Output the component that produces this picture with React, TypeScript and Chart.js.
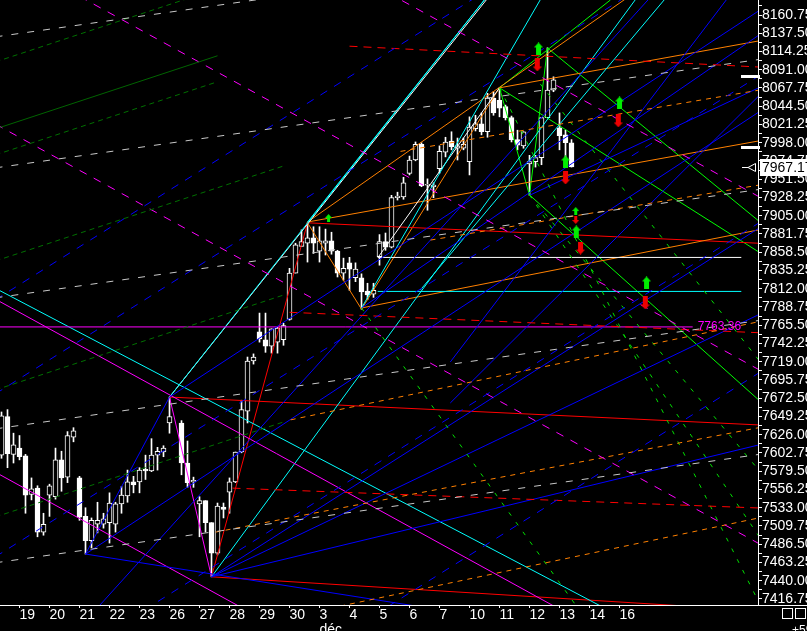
import React, { useEffect, useRef } from 'react';
import { Chart, registerables } from 'chart.js';

Chart.register(...registerables);

// ---- candles (one candle per array slot, ~5 per trading day) ----
const opens = [7600,7649,7601,7609,7599,7550,7558,7502,7549,7547,7594,7572,7623,7571,7522,7491,7512,7512,7514,7512,7538,7548,7566,7566,7582,7580,7600,7604,7641,null,7641,7590,7566,7538,7542,7514,7475,7534,7553,7566,7604,7656,7720,7757,7747,7739,7744,7747,7773,7832,7866,7870,7877,7860,7870,7873,7860,7832,7845,7826,7826,7809,7805,7853,7872,7865,7928,7929,7959,7976,7996,7944,7942,7965,7986,8000,7991,7991,7974,8016,8022,8012,8055,8052,8044,8030,8002,7994,7971,7974,7979,8030,8065,8017,8008,7998];
const highs = [7655,7658,7628,7625,7601,7571,7561,7526,7563,7609,7605,7630,7635,7573,7533,7520,7540,7526,7552,7540,7560,7581,7573,7584,7600,7621,7610,7612,7674,null,7644,7618,7572,7547,7542,7514,7539,7539,7571,7604,7670,7725,7729,7781,7781,7761,7763,7768,7838,7870,7887,7896,7891,7891,7888,7884,7861,7851,7852,7845,7831,7819,7819,7881,7883,7931,7935,7954,7981,7999,7998,7952,7947,7994,8005,8012,8004,8004,8031,8033,8036,8061,8063,8068,8046,8032,8014,8012,7982,7982,8030,8119,8082,8036,8014,8002];
const lows = [7596,7584,7590,7594,7526,7543,7496,7498,7522,7544,7554,7565,7617,7517,7474,7482,7501,7507,7488,7502,7526,7540,7552,7552,7569,7579,7581,7598,7628,null,7575,7559,7559,7496,7502,7445,7473,7520,7526,7565,7603,7641,7716,7744,7731,7730,7730,7740,7772,7832,7866,7846,7857,7846,7855,7856,7827,7823,7810,7821,7786,7798,7801,7842,7861,7864,7925,7926,7957,7975,7942,7912,7928,7959,7980,7989,7976,7989,7957,8013,8008,8005,8033,8031,8027,7999,7989,7991,7931,7967,7970,8030,8063,7989,7976,7967];
const closes = [7650,7602,7613,7598,7549,7557,7502,7512,7561,7594,7571,7625,7631,7521,7491,7517,7517,7519,7539,7538,7549,7566,7562,7581,7580,7600,7605,7609,7649,null,7590,7565,7568,7542,7514,7475,7535,7531,7566,7604,7658,7720,7725,7748,7739,7761,7762,7765,7832,7868,7872,7877,7870,7873,7873,7860,7832,7838,7837,7837,7808,7804,7810,7872,7865,7928,7930,7947,7976,7996,7943,7945,7944,7987,7999,7993,7994,7996,8018,8022,8012,8055,8036,8042,8030,8002,7995,8012,7974,7979,8030,8065,8078,8007,7998,7967.17];

// ---- x axis: first candle of each trading day, and its label ----
const dayTickIndex = [3,8,13,18,23,28,33,38,43,48,53,58,63,68,73,78,83,88,93,98,103];
const dayLabels = ['19','20','21','22','23','26','27','28','29','30','3','4','5','6','7','10','11','12','13','14','16'];
const monthLabel = 'déc';
const monthLabelDay = '3';

// ---- y axis ----
const yTickStart = 7416.75;
const yTickStep = 23.25;
const yMin = 7409.1;
const yMax = 8179.86;

// ---- levels ----
const magentaLevel = 7763.36;
const cyanLevel = 7808.6;
const whiteLevel = 7851.9;
const lastPrice = 7967.17;
const whiteMarks = [8083, 7992.6];

// ---- line segments [x1, price1, x2, price2] in candle-index units ----
type Seg = [number, number, number, number];
const zigBlue: Seg[] = [[14, 7474, 28, 7674]];
const zigMagenta: Seg[] = [[28, 7674, 35, 7445]];
const zigRed: Seg[] = [[35, 7445, 51, 7896]];
const zigOrange: Seg[] = [[51, 7896, 60, 7786], [60, 7786, 83, 8068]];
const zigGreen: Seg[] = [[83, 8068, 88, 7931], [88, 7931, 91, 8119]];

const redSolid: Seg[] = [[51, 7896, 126.2, 7870], [28, 7674, 126.2, 7638.5], [35, 7445, 126.2, 7402]];
const redDashed: Seg[] = [[38.5, 7558, 126.2, 7532.7], [48, 7782, 126.2, 7756], [58, 8121, 126.2, 8094.5]];

const magentaSolid: Seg[] = [[-1, 7798.7, 127, 7261], [-1, 7578.2, 127, 7040], [-1, magentaLevel, 115.2, magentaLevel]];
const magentaDashed: Seg[] = [[-1, 8021.7, 127, 7484.1], [-1, 8243.3, 127, 7705.7], [-1, 8463.7, 127, 7926.1]];

const cyanSolid: Seg[] = [
  [-1, 7812.5, 101, 7403.2], [35, 7445, 106, 8184], [60, 7787.5, 91, 8196],
  [51, 7897, 81, 8185], [69.8, 7810.4, 111, 8185], [28, 7674, 80.5, 8180],
  [62.7, cyanLevel, 123.3, cyanLevel],
];
const whiteSolid: Seg[] = [[28, 7674, 80.8, 8180], [62.7, whiteLevel, 123.3, whiteLevel], [62.8, 7852.5, 83, 8068]];

const orangeSolid: Seg[] = [[83, 8068, 126.2, 8127.7], [51, 7897, 126.2, 8000.3], [51, 7897, 104.7, 8185], [60, 7787.5, 126.2, 7887]];
const orangeDashed: Seg[] = [[66.5, 7987, 126.2, 8065], [71.5, 7874, 126.2, 7944], [48.2, 7645, 126.2, 7770], [35.7, 7502, 126.2, 7635], [54.8, 7405, 126.2, 7520]];

const blueSolid: Seg[] = [
  [14, 7474, 126.2, 8037], [28, 7674, 126.2, 8166], [35, 7445, 126.2, 7889],
  [14, 7474, 126.2, 7339], [16.4, 7409, 107.75, 8180], [60, 7787.5, 126.2, 8135],
  [88, 7931, 126.2, 8068], [35, 7445, 126.2, 7613], [35, 7445, 126.2, 7779],
  [74.8, 7666.5, 126.2, 8057.6], [74.8, 7718.7, 120.8, 8180],
];
const blueDashed: Seg[] = [[-1, 7798, 126.2, 8410.4], [-1, 7678.2, 126.2, 8290.6], [-1, 7470.6, 126.2, 8083], [-1, 7283.3, 126.2, 7895.7], [-1, 7092.2, 126.2, 7704.6]];

const grayDashed: Seg[] = [[-1, 8132.9, 126.2, 8271], [-1, 7966, 126.2, 8104], [-1, 7800.4, 126.2, 7938.4], [-1, 7633.5, 126.2, 7771.5], [-1, 7462.9, 126.2, 7600.9]];

const darkGreenSolid: Seg[] = [[-1, 8015.6, 36, 8108.8]];
const darkGreenDashed: Seg[] = [[-1, 8101, 47, 8222], [-1, 7982.5, 36, 8075.7], [-1, 7847.4, 47, 7968.4], [-1, 7683.1, 47, 7804], [-1, 7521.3, 47, 7642.3]];

const limeSolid: Seg[] = [[83, 8068, 126.2, 7858.9], [91, 8118.7, 126.2, 7898.4], [88, 7931.5, 126.2, 7670.3], [83, 8068, 101.5, 8180]];
const limeDashed: Seg[] = [[88, 7931.5, 126.2, 7581], [89.8, 8072.9, 126.2, 7721.3], [60, 7787.5, 95.7, 7409], [88, 7931.5, 126.2, 7497], [83, 8068, 126.2, 7413]];

// ---- signal arrows [x, price] ----
const upArrows = [[89.5, 8117.5], [103, 8048.7], [94, 7973.5], [95.8, 7884.3], [107.5, 7819.4]];
const downArrows = [[89.3, 8097.1], [102.8, 8025.8], [94, 7953.1], [96.5, 7863.9], [107.3, 7793.9]];
const smallUpArrows = [[54.5, 7902.2], [95.7, 7911]];
const smallDownArrows = [[95.7, 7899.6]];

const lineGroups: { segs: Seg[]; color: string; dash: number[] }[] = [
  { segs: grayDashed, color: '#c8c8c8', dash: [7, 9] },
  { segs: darkGreenDashed, color: '#007000', dash: [5, 4] },
  { segs: darkGreenSolid, color: '#006400', dash: [] },
  { segs: blueDashed, color: '#0000ff', dash: [8, 8] },
  { segs: magentaDashed, color: '#ff00ff', dash: [8, 8] },
  { segs: orangeDashed, color: '#ff8000', dash: [5, 5] },
  { segs: redDashed, color: '#ff0000', dash: [8, 6] },
  { segs: limeDashed, color: '#00e000', dash: [4, 8] },
  { segs: blueSolid, color: '#0000ff', dash: [] },
  { segs: magentaSolid, color: '#ff00ff', dash: [] },
  { segs: cyanSolid, color: '#00ffff', dash: [] },
  { segs: whiteSolid, color: '#ffffff', dash: [] },
  { segs: orangeSolid, color: '#ff8000', dash: [] },
  { segs: redSolid, color: '#ff0000', dash: [] },
  { segs: limeSolid, color: '#00ff00', dash: [] },
  { segs: zigBlue, color: '#0000ff', dash: [] },
  { segs: zigMagenta, color: '#ff00ff', dash: [] },
  { segs: zigRed, color: '#ff0000', dash: [] },
  { segs: zigOrange, color: '#ff8000', dash: [] },
  { segs: zigGreen, color: '#00ff00', dash: [] },
];

function makeArrow(up: boolean, color: string, w: number, headH: number, shaftW: number, shaftH: number) {
  const c = document.createElement('canvas');
  c.width = w;
  c.height = headH + shaftH;
  const g = c.getContext('2d')!;
  g.fillStyle = color;
  if (up) {
    g.beginPath(); g.moveTo(w / 2, 0); g.lineTo(w, headH); g.lineTo(0, headH); g.closePath(); g.fill();
    g.fillRect((w - shaftW) / 2, headH, shaftW, shaftH);
  } else {
    g.fillRect((w - shaftW) / 2, 0, shaftW, shaftH);
    g.beginPath(); g.moveTo(0, shaftH); g.lineTo(w, shaftH); g.lineTo(w / 2, shaftH + headH); g.closePath(); g.fill();
  }
  return c;
}

const zeroPad = (s: any) => {
  s.paddingTop = 0;
  s.paddingBottom = 0;
  s.paddingLeft = 0;
  s.paddingRight = 0;
};

export default function App() {
  const ref = useRef<HTMLCanvasElement>(null);

  useEffect(() => {
    document.body.style.margin = '0';
    document.body.style.background = '#000';
    const canvas = ref.current;
    if (!canvas) return;

    const idx = opens.map((_, i) => i).filter((i) => opens[i] !== null);
    const wickData = idx.map((i) => ({ x: i, y: [lows[i] as number, highs[i] as number] }));
    const bodyData = idx.map((i) => {
      const o = opens[i] as number, c = closes[i] as number;
      return { x: i, y: [Math.min(o, c), Math.max(o, c)] };
    });
    const bodyFill = idx.map((i) => ((closes[i] as number) >= (opens[i] as number) ? '#000000' : '#ffffff'));

    const lineDatasets: any[] = [];
    lineGroups.forEach((g) => {
      g.segs.forEach((s) => {
        lineDatasets.push({
          type: 'line',
          data: [{ x: s[0], y: s[1] }, { x: s[2], y: s[3] }],
          borderColor: g.color,
          borderWidth: 1,
          borderDash: g.dash,
          pointRadius: 0,
          tension: 0,
          fill: false,
          order: 1,
        });
      });
    });

    const upImg = makeArrow(true, '#00ee00', 9, 5, 5, 8);
    const downImg = makeArrow(false, '#ee0000', 9, 5, 5, 8);
    const upSmall = makeArrow(true, '#00ee00', 7, 4, 3, 4);
    const downSmall = makeArrow(false, '#ee0000', 7, 4, 3, 4);
    const arrowSet = (pts: number[][], img: HTMLCanvasElement) => ({
      type: 'scatter',
      data: pts.map((p) => ({ x: p[0], y: p[1] })),
      pointStyle: img,
      pointRadius: 5,
      showLine: false,
      order: 0,
    });

    const extras = {
      id: 'extras',
      beforeDraw(chart: any) {
        const { ctx } = chart;
        ctx.save();
        ctx.fillStyle = '#000';
        ctx.fillRect(0, 0, chart.width, chart.height);
        ctx.restore();
      },
      afterDraw(chart: any) {
        const { ctx, chartArea } = chart;
        const xs = chart.scales.x;
        const ys = chart.scales.y;
        ctx.save();
        ctx.strokeStyle = '#fff';
        ctx.lineWidth = 1;
        ctx.beginPath();
        ctx.moveTo(chartArea.right, Math.round(chartArea.bottom) + 0.5);
        ctx.lineTo(chart.width, Math.round(chartArea.bottom) + 0.5);
        ctx.stroke();
        ctx.fillStyle = '#fff';
        whiteMarks.forEach((v) => {
          const y = Math.round(ys.getPixelForValue(v));
          ctx.fillRect(chartArea.right - 17, y - 1, 19, 3);
        });
        ctx.fillStyle = '#ff00ff';
        ctx.font = '12px "Liberation Sans", Arial, sans-serif';
        ctx.textBaseline = 'middle';
        ctx.textAlign = 'left';
        ctx.fillText(magentaLevel.toFixed(2), xs.getPixelForValue(115.2) + 5, ys.getPixelForValue(magentaLevel));
        const yp = Math.round(ys.getPixelForValue(lastPrice));
        ctx.fillStyle = '#fff';
        ctx.fillRect(chartArea.right + 2, yp - 8, chart.width - chartArea.right - 2, 17);
        ctx.fillStyle = '#000';
        ctx.font = '14px "Liberation Sans", Arial, sans-serif';
        ctx.fillText(lastPrice.toFixed(2), chartArea.right + 4, yp + 1);
        ctx.strokeStyle = '#fff';
        ctx.beginPath();
        ctx.moveTo(chartArea.right - 16, yp + 0.5);
        ctx.lineTo(chartArea.right - 10, yp + 0.5);
        ctx.moveTo(chartArea.right - 10, yp + 0.5);
        ctx.lineTo(chartArea.right - 2.5, yp - 3.5);
        ctx.lineTo(chartArea.right - 2.5, yp + 4.5);
        ctx.closePath();
        ctx.stroke();
        ctx.strokeRect(782.5, 608.5, 10, 10);
        ctx.strokeRect(795.5, 608.5, 10, 10);
        ctx.fillStyle = '#fff';
        ctx.font = '12px "Liberation Sans", Arial, sans-serif';
        ctx.textBaseline = 'top';
        ctx.fillText('+59', 792, 625);
        ctx.restore();
      },
    };

    const yTicks: { value: number }[] = [];
    for (let v = yTickStart, k = 0; v <= yMax; v = yTickStart + yTickStep * 0.5 * ++k) yTicks.push({ value: v });

    const chart = new Chart(canvas, {
      type: 'bar',
      data: {
        datasets: [
          ...lineDatasets,
          arrowSet(upArrows, upImg),
          arrowSet(downArrows, downImg),
          arrowSet(smallUpArrows, upSmall),
          arrowSet(smallDownArrows, downSmall),
          {
            type: 'bar',
            data: bodyData,
            backgroundColor: bodyFill,
            borderColor: '#ffffff',
            borderWidth: 1,
            borderSkipped: false,
            barThickness: 5,
            grouped: false,
            order: 2,
          },
          {
            type: 'bar',
            data: wickData,
            backgroundColor: '#ffffff',
            borderWidth: 0,
            barThickness: 1,
            grouped: false,
            order: 3,
          },
        ] as any,
      },
      plugins: [extras],
      options: {
        responsive: false,
        maintainAspectRatio: false,
        animation: false,
        devicePixelRatio: 1,
        events: [],
        layout: { padding: 0, autoPadding: false },
        plugins: { legend: { display: false }, tooltip: { enabled: false } },
        scales: {
          x: {
            type: 'linear',
            position: 'bottom',
            min: -0.25,
            max: 126.0833,
            offset: false,
            afterBuildTicks: (s: any) => { s.ticks = dayTickIndex.map((v) => ({ value: v })); },
            afterFit: (s: any) => { s.height = 26; zeroPad(s); },
            grid: { display: true, drawOnChartArea: false, drawTicks: true, tickLength: 3, color: '#ffffff', lineWidth: 1, offset: false },
            border: { display: true, color: '#ffffff', width: 1 },
            ticks: {
              autoSkip: false,
              maxRotation: 0,
              minRotation: 0,
              align: 'start',
              padding: 0,
              color: '#ffffff',
              font: { family: '"Liberation Sans Narrow", "Liberation Sans", Arial, sans-serif', size: 14, lineHeight: 1.05 },
              callback: (_v: any, i: number) => {
                const l = dayLabels[i];
                return l === monthLabelDay ? [l, monthLabel] : l;
              },
            },
          },
          y: {
            type: 'linear',
            position: 'right',
            min: yMin,
            max: yMax,
            afterBuildTicks: (s: any) => { s.ticks = yTicks.map((t) => ({ value: t.value })); },
            afterFit: (s: any) => { s.width = 49; zeroPad(s); },
            grid: { display: true, drawOnChartArea: false, drawTicks: true, tickLength: 4, color: '#ffffff', lineWidth: 1 },
            border: { display: true, color: '#ffffff', width: 1 },
            ticks: {
              autoSkip: false,
              padding: 0,
              color: '#ffffff',
              font: { family: '"Liberation Sans", Arial, sans-serif', size: 14 },
              callback: (v: any, i: number) => (i % 2 === 0 ? Number(v).toFixed(2) : ''),
            },
          },
        },
      } as any,
    });
    return () => chart.destroy();
  }, []);

  return (
    <div style={{ width: 807, height: 631, background: '#000' }}>
      <canvas ref={ref} width={807} height={631} style={{ display: 'block', width: 807, height: 631 }} />
    </div>
  );
}
